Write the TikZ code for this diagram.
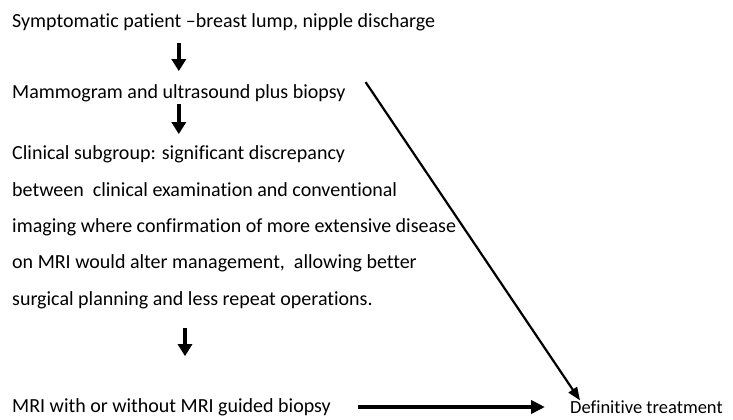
\documentclass[tikz,border=0pt]{standalone}
\usepackage{fontspec}
\setmainfont{Carlito}[Ligatures=NoCommon]
\usetikzlibrary{arrows.meta}

\begin{document}
\begin{tikzpicture}[x=1bp,y=-1bp,>={Triangle[width=14bp,length=12bp]},
  txt/.style={anchor=west, inner sep=0pt, font=\fontsize{20bp}{24bp}\selectfont},
  fat/.style={->, line width=4.5bp},
  across/.style={-{Triangle[width=13bp,length=14bp]}, line width=3.5bp},
  slant/.style={-{Triangle[width=10bp,length=13bp]}, line width=2.2bp}]
\useasboundingbox (0,0) rectangle (733,419);

% the steps
  \node[txt] (sym) at (12,22) {Symptomatic patient –breast lump, nipple discharge};
  \node[txt] (mam) at (12,93) {Mammogram and ultrasound plus biopsy};

% clinical subgroup, one node per line
  \node[txt] (cl1) at (12,154) {Clinical subgroup: significant discrepancy};
  \node[txt] (cl2) at (12,190) {between \ clinical examination and conventional};
  \node[txt] (cl3) at (12,227) {imaging where confirmation of more extensive disease};
  \node[txt] (cl4) at (12,263) {on MRI would alter management, \ allowing better};
  \node[txt] (cl5) at (12,300) {surgical planning and less repeat operations.};

  \node[txt] (mri) at (12,407) {MRI with or without MRI guided biopsy};
  \node[txt, font=\fontsize{18.5bp}{22bp}\selectfont] (def) at (570,407) {Definitive treatment};

% the links
  \draw[fat, shorten <=12bp, shorten >=13bp] (sym.south -| mam.north) -- (mam.north);
  \draw[fat, shorten <=2bp, shorten >=11bp] (mam.south) -- (mam.south |- cl1.north);
  \draw[fat, shorten <=19bp, shorten >=42bp] (cl5.south -| 185,0) -- (mri.north -| 185,0);
  \draw[across, shorten <=27bp, shorten >=25bp] (mri.east) -- (def.west);
  \draw[slant] ([shift={(20,-2)}]mam.north east) -- ([shift={(10,0)}]def.north west);

\end{tikzpicture}
\end{document}
